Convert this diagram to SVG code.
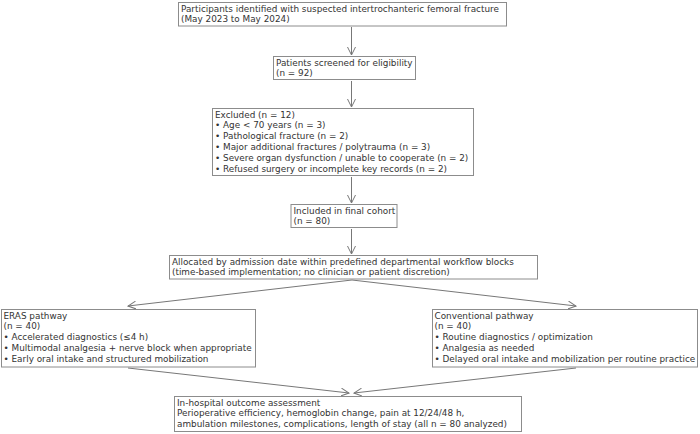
<svg xmlns="http://www.w3.org/2000/svg" width="700" height="434" viewBox="0 0 700 434">
<style>
  .box { fill: #ffffff; stroke: #8c8c8c; stroke-width: 1; }
  .t { font-family: "DejaVu Sans", "Liberation Sans", sans-serif; font-size: 8.85px; fill: #333333; }
  .c { stroke: #777777; stroke-width: 1; fill: none; }
</style>
<defs>
  <marker id="ah" markerUnits="userSpaceOnUse" markerWidth="10" markerHeight="10" refX="8" refY="4" orient="auto">
    <path d="M0,0 L8,4 L0,8" fill="none" stroke="#777777" stroke-width="1"/>
  </marker>
</defs>
<rect width="700" height="434" fill="#ffffff"/>
<g id="connectors">
  <line class="c" x1="351.5" y1="27" x2="351.5" y2="55" marker-end="url(#ah)"/>
  <line class="c" x1="351.5" y1="81" x2="351.5" y2="107" marker-end="url(#ah)"/>
  <line class="c" x1="351.5" y1="177" x2="351.5" y2="203" marker-end="url(#ah)"/>
  <line class="c" x1="351.5" y1="229" x2="351.5" y2="254" marker-end="url(#ah)"/>
  <line class="c" x1="352" y1="280" x2="128" y2="306" marker-end="url(#ah)"/>
  <line class="c" x1="352" y1="280" x2="576" y2="306" marker-end="url(#ah)"/>
  <line class="c" x1="128" y1="368" x2="349" y2="393" marker-end="url(#ah)"/>
  <line class="c" x1="576" y1="368" x2="354" y2="393" marker-end="url(#ah)"/>
</g>
<g id="identified">
  <rect class="box" x="178.5" y="2.5" width="328" height="23.5"/>
  <text class="t" x="181" y="11.5">Participants identified with suspected intertrochanteric femoral fracture</text>
  <text class="t" x="181" y="22.3">(May 2023 to May 2024)</text>
</g>
<g id="screened">
  <rect class="box" x="273.5" y="56.5" width="142" height="23"/>
  <text class="t" x="276" y="65.5">Patients screened for eligibility</text>
  <text class="t" x="276" y="76.3">(n = 92)</text>
</g>
<g id="excluded">
  <rect class="box" x="212.5" y="108.5" width="261" height="67"/>
  <text class="t" x="215" y="117.5">Excluded (n = 12)</text>
  <text class="t" x="215" y="128.3">• Age &lt; 70 years (n = 3)</text>
  <text class="t" x="215" y="139.1">• Pathological fracture (n = 2)</text>
  <text class="t" x="215" y="149.9">• Major additional fractures / polytrauma (n = 3)</text>
  <text class="t" x="215" y="160.7">• Severe organ dysfunction / unable to cooperate (n = 2)</text>
  <text class="t" x="215" y="171.5">• Refused surgery or incomplete key records (n = 2)</text>
</g>
<g id="included">
  <rect class="box" x="291" y="204.5" width="106" height="23"/>
  <text class="t" x="293.5" y="213.5">Included in final cohort</text>
  <text class="t" x="293.5" y="224.3">(n = 80)</text>
</g>
<g id="allocated">
  <rect class="box" x="169.5" y="255.5" width="368" height="23.5"/>
  <text class="t" x="172" y="264.5">Allocated by admission date within predefined departmental workflow blocks</text>
  <text class="t" x="172" y="275.3">(time-based implementation; no clinician or patient discretion)</text>
</g>
<g id="eras">
  <rect class="box" x="1.5" y="309.5" width="254" height="57.5"/>
  <text class="t" x="3.5" y="318.5">ERAS pathway</text>
  <text class="t" x="3.5" y="329.3">(n = 40)</text>
  <text class="t" x="3.5" y="340.1">• Accelerated diagnostics (≤4 h)</text>
  <text class="t" x="3.5" y="350.9">• Multimodal analgesia + nerve block when appropriate</text>
  <text class="t" x="3.5" y="361.7">• Early oral intake and structured mobilization</text>
</g>
<g id="conventional">
  <rect class="box" x="432.5" y="309.5" width="265" height="57.5"/>
  <text class="t" x="434.5" y="318.5">Conventional pathway</text>
  <text class="t" x="434.5" y="329.3">(n = 40)</text>
  <text class="t" x="434.5" y="340.1">• Routine diagnostics / optimization</text>
  <text class="t" x="434.5" y="350.9">• Analgesia as needed</text>
  <text class="t" x="434.5" y="361.7">• Delayed oral intake and mobilization per routine practice</text>
</g>
<g id="outcome">
  <rect class="box" x="174.5" y="396.5" width="347" height="35"/>
  <text class="t" x="177" y="405.5">In-hospital outcome assessment</text>
  <text class="t" x="177" y="416.3">Perioperative efficiency, hemoglobin change, pain at 12/24/48 h,</text>
  <text class="t" x="177" y="427.1">ambulation milestones, complications, length of stay (all n = 80 analyzed)</text>
</g>
</svg>
